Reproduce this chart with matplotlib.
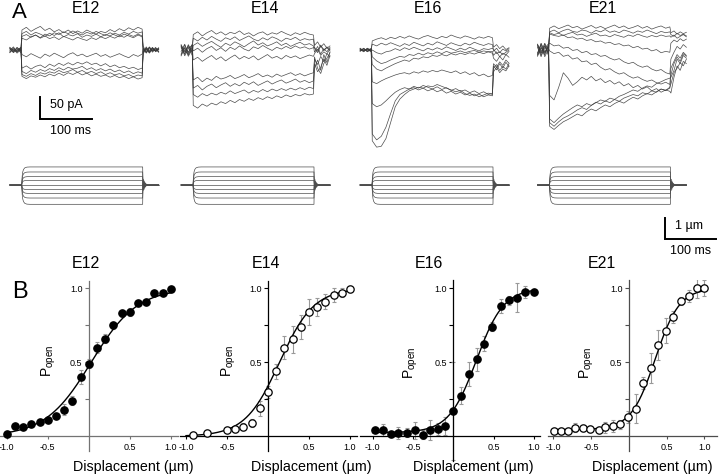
import numpy as np
import matplotlib
matplotlib.use('Agg')
import matplotlib.pyplot as plt

plt.rcParams['font.family'] = ['Liberation Sans', 'DejaVu Sans']
plt.rcParams['mathtext.fontset'] = 'custom'
plt.rcParams['mathtext.rm'] = 'Liberation Sans'
plt.rcParams['mathtext.it'] = 'Liberation Sans:italic'

W, H = 720, 476
fig = plt.figure(figsize=(7.2, 4.76), dpi=100)

# ------------------------------------------------------------------ data
ages = ['E12', 'E14', 'E16', 'E21']

# time base of the current records (ms, from start of each record)
t_ms = [0, 7, 14, 21.5,
        23.5, 32, 41, 50, 59, 68, 77, 86, 95, 104, 113, 122, 131, 140, 149,
        158, 167, 176, 185, 194, 203, 212, 221, 230, 239, 248, 256,
        258, 264, 270, 276, 282, 288]

# transducer currents (pA, upward positive), pre + step + post
e12_pA = [
    [3, -5, 6, -2] + [44, 50, 41, 47, 52, 43, 48, 40, 45, 38, 44, 36, 42, 37, 44, 39, 35, 41, 38, 45, 40, 47, 42, 49, 44, 50, 46] + [8, -3, 6, -5, 4, 0],
    [-4, 5, -3, 4] + [36, 41, 33, 39, 35, 30, 37, 32, 38, 29, 34, 31, 36, 28, 33, 30, 35, 29, 34, 31, 37, 33, 39, 35, 41, 37, 40] + [-6, 7, -4, 5, -2, 3],
    [6, -2, 3, -6] + [30, 34, 28, 33, 26, 31, 25, 29, 23, 30, 26, 22, 28, 24, 21, 27, 23, 29, 25, 30, 26, 32, 28, 34, 30, 35, 31] + [5, -7, 3, -2, 6, -4],
    [-1, 7, -5, 2] + [26, 22, 29, 33, 27, 35, 31, 38, 34, 40, 36, 42, 37, 33, 39, 35, 41, 36, 32, 38, 33, 29, 35, 31, 27, 33, 29] + [-3, 4, -6, 3, -1, 5],
    [4, -6, 1, 5] + [-10, -15, -8, -13, -18, -9, -14, -7, -12, -17, -10, -6, -13, -9, -15, -11, -7, -14, -10, -16, -12, -8, -13, -17, -10, -14, -9] + [2, -5, 6, -3, 1, -4],
    [-5, 3, -7, 1] + [-40, -35, -42, -36, -33, -39, -31, -36, -29, -34, -28, -33, -27, -31, -26, -32, -29, -35, -30, -37, -33, -39, -36, -41, -38, -43, -40] + [-8, 2, -5, 4, -3, 2],
    [2, -4, 5, -3] + [-47, -52, -45, -49, -43, -47, -41, -45, -39, -44, -38, -42, -40, -36, -43, -39, -45, -41, -46, -42, -48, -44, -50, -46, -52, -48, -51] + [-6, 5, -2, 6, -4, 1],
    [-6, 2, -2, 6] + [-54, -58, -52, -56, -50, -53, -48, -51, -45, -50, -47, -43, -49, -45, -51, -47, -52, -48, -54, -50, -55, -52, -57, -54, -59, -55, -57] + [4, -6, 7, -2, 3, -5],
    [5, -1, -4, 3] + [-58, -63, -57, -60, -55, -59, -53, -57, -51, -56, -50, -54, -49, -55, -51, -57, -53, -58, -55, -60, -56, -61, -58, -63, -59, -64, -61] + [-4, 3, -7, 2, -2, 4],
]
e14_pA = [
    [8, -10, 12, -6] + [34, 40, 31, 38, 43, 35, 40, 33, 39, 36, 42, 34, 38, 31, 37, 40, 33, 38, 35, 41, 36, 32, 38, 34, 39, 35, 33] + [10, 18, 6, 14, 4, 9],
    [-9, 11, -5, 10] + [26, 20, 28, 22, 30, 24, 19, 27, 23, 29, 21, 26, 31, 24, 20, 27, 22, 29, 25, 19, 26, 23, 28, 21, 25, 22, 24] + [4, -6, 9, -2, 7, 1],
    [12, -4, 7, -12] + [10, 16, 8, 14, 19, 12, 6, 15, 10, 18, 13, 7, 14, 20, 11, 16, 9, 13, 18, 10, 15, 8, 13, 17, 11, 14, 9] + [-5, 8, -9, 3, -4, 6],
    [-3, 13, -11, 5] + [-2, 4, -5, 3, 8, -1, 5, -3, 6, 1, 9, 2, -2, 7, 3, 10, 4, -1, 6, 2, 8, 3, 9, 4, 7, 2, 5] + [6, -3, 11, 0, 5, -2],
    [9, -13, 3, 11] + [-22, -16, -25, -18, -12, -21, -15, -24, -17, -11, -20, -14, -19, -13, -22, -16, -10, -18, -14, -20, -12, -17, -13, -19, -15, -11, -14] + [-8, 2, -12, -4, -9, 3],
    [-11, 6, -14, 2] + [-66, -60, -70, -62, -67, -58, -64, -61, -56, -63, -59, -54, -61, -57, -52, -59, -55, -60, -53, -58, -54, -50, -56, -52, -57, -53, -50] + [-20, -32, -14, -26, -8, -15],
    [5, -8, 10, -7] + [-84, -78, -88, -80, -75, -83, -77, -72, -80, -74, -79, -71, -76, -70, -78, -73, -68, -75, -70, -66, -73, -69, -64, -71, -67, -72, -68] + [-30, -48, -38, -20, -34, -12],
    [-13, 4, -6, 13] + [-98, -104, -96, -101, -95, -99, -93, -97, -90, -96, -92, -88, -95, -89, -93, -87, -92, -86, -90, -85, -89, -84, -88, -83, -87, -82, -85] + [-15, -40, -52, -30, -18, -6],
    [10, -2, -9, 7] + [-122, -128, -119, -124, -117, -121, -114, -118, -111, -116, -109, -113, -107, -111, -105, -109, -103, -107, -101, -105, -99, -103, -98, -101, -96, -99, -97] + [-40, -22, -45, -10, -28, -4],
]
e16_pA = [
    [2, -3, 4, -1] + [20, 24, 27, 23, 28, 25, 30, 26, 31, 27, 24, 29, 32, 28, 25, 30, 27, 33, 29, 26, 31, 28, 24, 29, 26, 30, 27] + [6, 12, 3, 9, 1, 5],
    [-2, 3, -4, 2] + [13, 9, 15, 11, 16, 12, 8, 14, 10, 17, 13, 9, 15, 11, 18, 14, 10, 16, 12, 9, 15, 11, 17, 13, 10, 14, 12] + [-3, 4, -6, 2, -2, 3],
    [3, -1, 2, -3] + [0, -6, -9, -4, -2, 3, -1, 5, 1, 6, 2, -2, 4, 0, 5, 1, 7, 3, -1, 4, 0, 6, 2, -2, 3, 1, 4] + [2, -8, -4, -10, -5, 0],
    [-3, 2, -1, 4] + [-15, -24, -30, -27, -22, -18, -14, -16, -10, -12, -7, -11, -6, -9, -4, -8, -3, -7, -5, -2, -6, -3, -1, -5, -2, -4, -3] + [-12, -4, -15, -7, -11, -3],
    [1, -4, 3, -2] + [-32, -42, -46, -40, -35, -30, -26, -22, -25, -18, -20, -15, -17, -12, -14, -10, -13, -8, -11, -7, -10, -6, -9, -5, -8, -4, -7] + [-18, -25, -14, -22, -10, -16],
    [4, -2, 1, -4] + [-70, -74, -68, -63, -59, -55, -52, -50, -53, -48, -51, -46, -49, -45, -48, -44, -47, -50, -46, -52, -48, -54, -50, -57, -53, -59, -56] + [-30, -38, -26, -34, -22, -29],
    [-1, 3, -3, 1] + [-118, -125, -121, -112, -102, -93, -87, -83, -86, -80, -84, -78, -82, -86, -81, -87, -83, -89, -85, -91, -88, -94, -90, -96, -92, -98, -95] + [-40, -32, -45, -36, -42, -30],
    [2, -2, 3, -1] + [-185, -198, -190, -170, -140, -112, -98, -92, -86, -83, -88, -84, -90, -86, -92, -88, -95, -91, -97, -93, -99, -95, -101, -97, -103, -99, -101] + [-35, -44, -30, -40, -27, -36],
    [-2, 4, -3, 2] + [-200, -214, -212, -195, -160, -125, -108, -98, -90, -86, -82, -84, -79, -81, -76, -80, -84, -88, -92, -89, -96, -100, -97, -103, -99, -95, -98] + [-48, -38, -50, -42, -46, -35],
]
e21_pA = [
    [12, -8, 15, -4] + [48, 53, 47, 51, 55, 49, 52, 46, 50, 54, 48, 52, 47, 51, 55, 49, 53, 47, 50, 54, 48, 52, 46, 50, 53, 48, 51] + [38, 42, 35, 40, 36, 39],
    [-10, 14, -6, 9] + [40, 44, 38, 43, 46, 41, 39, 44, 42, 37, 43, 40, 45, 39, 42, 38, 44, 41, 37, 42, 39, 44, 40, 36, 41, 38, 40] + [34, 30, 37, 32, 35, 31],
    [6, -15, 10, -9] + [38, 34, 37, 32, 36, 39, 33, 35, 30, 34, 37, 31, 33, 29, 34, 31, 28, 33, 30, 35, 31, 28, 32, 29, 33, 30, 31] + [28, 33, 26, 30, 34, 29],
    [-14, 5, -11, 13] + [35, 32, 30, 33, 27, 29, 24, 26, 21, 23, 18, 20, 15, 17, 12, 14, 9, 11, 5, 8, 2, 4, -2, 1, -6, -3, -5] + [15, 22, 18, 25, 20, 24],
    [9, -12, 4, 14] + [15, 9, 11, 4, 6, -1, 1, -6, -3, -10, -8, -14, -12, -18, -22, -19, -26, -30, -27, -34, -38, -35, -42, -46, -43, -50, -53] + [-20, -5, 8, 2, 12, 6],
    [-6, 11, -15, 3] + [-2, -8, -5, -14, -11, -20, -17, -26, -24, -32, -29, -38, -44, -41, -48, -53, -50, -57, -62, -59, -65, -69, -66, -72, -75, -71, -76] + [-40, -25, -10, -18, -5, -12],
    [13, -3, 8, -13] + [-100, -110, -82, -50, -62, -78, -70, -60, -66, -58, -68, -63, -72, -67, -75, -70, -79, -74, -83, -78, -86, -81, -90, -85, -93, -88, -91] + [-95, -60, -35, -45, -25, -30],
    [-9, 15, -4, 7] + [-160, -168, -158, -150, -145, -139, -132, -127, -131, -122, -116, -110, -113, -106, -109, -102, -98, -93, -88, -91, -84, -79, -82, -74, -70, -65, -62] + [-60, -45, -20, -30, -12, -18],
    [11, -7, 14, -10] + [-168, -175, -166, -158, -153, -147, -141, -145, -136, -130, -134, -127, -121, -125, -118, -113, -117, -110, -104, -108, -101, -96, -99, -92, -86, -89, -82] + [-75, -50, -40, -28, -35, -20],
    [-12, 6, -8, 12] + [-152, -160, -150, -141, -134, -127, -121, -125, -118, -122, -115, -119, -112, -116, -109, -113, -106, -102, -98, -101, -94, -97, -90, -93, -86, -89, -84] + [-55, -30, -15, -25, -8, -14],
]
currents = [e12_pA, e14_pA, e16_pA, e21_pA]

# bundle displacement steps (um)
stim_levels_um = [0.86, 0.62, 0.40, 0.22, 0.0, -0.22, -0.40, -0.62, -0.92]
stim_on_ms, stim_off_ms, stim_end_ms = 23, 257, 288
stim_rise_t = [0, 1, 2, 3.5, 6, 10, 16]
stim_rise_frac = [0, 0.5, 0.72, 0.86, 0.95, 0.99, 1.0]
stim_ring_t = [0, 0.6, 1.8, 3.0, 4.2, 5.4, 6.6, 8.0, 10.0]
stim_ring_frac = [1, 0, -0.3, 0.22, -0.15, 0.1, -0.06, 0.03, 0]

# activation curves (Popen vs displacement, um)
e12_x = [-1.0, -0.9, -0.8, -0.7, -0.6, -0.5, -0.4, -0.3, -0.2, -0.1, 0.0, 0.1, 0.2, 0.3, 0.4, 0.5, 0.6, 0.7, 0.8, 0.9, 1.0]
e12_p = [0.016, 0.07, 0.065, 0.086, 0.10, 0.11, 0.14, 0.18, 0.24, 0.40, 0.49, 0.60, 0.66, 0.75, 0.83, 0.84, 0.90, 0.91, 0.97, 0.97, 0.995]
e12_err = [0.01, 0.015, 0.015, 0.015, 0.015, 0.02, 0.02, 0.035, 0.03, 0.045, 0.03, 0.04, 0.03, 0.025, 0.025, 0.03, 0.02, 0.02, 0.015, 0.01, 0.01]

e14_x = [-0.92, -0.74, -0.5, -0.4, -0.3, -0.2, -0.1, 0.0, 0.1, 0.2, 0.3, 0.4, 0.5, 0.6, 0.7, 0.8, 0.9, 1.0]
e14_p = [0.01, 0.025, 0.04, 0.05, 0.065, 0.09, 0.19, 0.30, 0.44, 0.60, 0.655, 0.74, 0.84, 0.876, 0.91, 0.955, 0.97, 0.998]
e14_err = [0.005, 0.01, 0.01, 0.02, 0.025, 0.03, 0.05, 0.04, 0.05, 0.08, 0.09, 0.08, 0.085, 0.06, 0.05, 0.045, 0.03, 0.02]

e16_x = [-0.97, -0.87, -0.77, -0.68, -0.58, -0.48, -0.38, -0.29, -0.19, -0.1, 0.0, 0.09, 0.19, 0.29, 0.38, 0.48, 0.59, 0.69, 0.79, 0.89, 1.0]
e16_p = [0.043, 0.043, 0.014, 0.02, 0.025, 0.04, 0.01, 0.043, 0.05, 0.07, 0.17, 0.275, 0.42, 0.52, 0.626, 0.74, 0.88, 0.92, 0.937, 0.977, 0.977]
e16_err = [0.02, 0.04, 0.02, 0.04, 0.03, 0.06, 0.03, 0.07, 0.04, 0.06, 0.33, 0.06, 0.08, 0.08, 0.05, 0.03, 0.05, 0.03, 0.1, 0.04, 0.02]

e21_x = [-0.99, -0.9, -0.81, -0.71, -0.61, -0.51, -0.4, -0.31, -0.21, -0.11, -0.01, 0.1, 0.19, 0.29, 0.39, 0.49, 0.59, 0.69, 0.8, 0.9, 1.0]
e21_p = [0.038, 0.038, 0.034, 0.058, 0.058, 0.05, 0.043, 0.06, 0.072, 0.08, 0.128, 0.187, 0.358, 0.46, 0.617, 0.714, 0.804, 0.914, 0.948, 1.0, 1.0]
e21_err = [0.01, 0.02, 0.02, 0.03, 0.02, 0.02, 0.02, 0.04, 0.04, 0.03, 0.04, 0.1, 0.04, 0.1, 0.1, 0.085, 0.04, 0.03, 0.04, 0.065, 0.055]

curve_x = [e12_x, e14_x, e16_x, e21_x]
curve_p = [e12_p, e14_p, e16_p, e21_p]
curve_err = [e12_err, e14_err, e16_err, e21_err]
filled = [True, False, True, False]

# Boltzmann fit parameters: baseline, midpoint (um), slope (um)
fit_base = [0.0, 0.0, 0.025, 0.045]
fit_mid = [0.03, 0.14, 0.285, 0.35]
fit_slope = [0.28, 0.21, 0.17, 0.16]

# ------------------------------------------------------------------ layout
PX_PER_MS = 0.517
PX_PER_PA = 0.454
PX_PER_UM = 21.0
A_BASE_PX = 50.0          # pixel row of 0 pA
S_BASE_PX = 185.0         # pixel row of 0 um
rec_start_px = [9.8, 181.1, 360.1, 537.5]


def fx(px):
    return px / W


def fy(py):
    return 1 - py / H


# overlay axes for the current records (ms / pA)
axI = fig.add_axes([0, 0, 1, 1])
axI.set_xlim(0, W / PX_PER_MS)
axI.set_ylim(-(H - A_BASE_PX) / PX_PER_PA, A_BASE_PX / PX_PER_PA)
axI.axis('off')
axI.patch.set_alpha(0)

# overlay axes for the stimulus (ms / um)
axS = fig.add_axes([0, 0, 1, 1])
axS.set_xlim(0, W / PX_PER_MS)
axS.set_ylim(-(H - S_BASE_PX) / PX_PER_UM, S_BASE_PX / PX_PER_UM)
axS.axis('off')
axS.patch.set_alpha(0)

t_arr = np.array(t_ms)
rt = np.array(stim_rise_t)
rf = np.array(stim_rise_frac)
gt = np.array(stim_ring_t)
gf = np.array(stim_ring_frac)
for k in range(4):
    t0 = rec_start_px[k] / PX_PER_MS
    for tr in currents[k]:
        axI.plot(t0 + t_arr, tr, color='0.22', lw=0.5, alpha=0.9,
                 solid_joinstyle='miter')
    # stimulus
    for lev in stim_levels_um:
        tt = np.concatenate([[0], stim_on_ms + rt, [stim_off_ms],
                             stim_off_ms + gt[1:], [stim_end_ms]])
        yy = np.concatenate([[0], lev * rf, [lev], lev * gf[1:], [0]])
        axS.plot(t0 + tt, yy, color='0.3', lw=0.5)

# scale bars panel A
sb_x = 40 / PX_PER_MS
sb_y = (A_BASE_PX - 119.3) / PX_PER_PA
axI.plot([sb_x, sb_x, sb_x + 100], [sb_y + 50, sb_y, sb_y], color='k', lw=1.4,
         solid_joinstyle='miter')
axI.text(50 / PX_PER_MS, (A_BASE_PX - 105) / PX_PER_PA, '50 pA', fontsize=9,
         ha='left', va='center')
axI.text(50 / PX_PER_MS, (A_BASE_PX - 131) / PX_PER_PA, '100 ms', fontsize=9,
         ha='left', va='center')

sx0 = 664.5 / PX_PER_MS
sy0 = (S_BASE_PX - 239.4) / PX_PER_UM
axS.plot([sx0, sx0, sx0 + 100], [sy0 + 1, sy0, sy0], color='k', lw=1.4,
         solid_joinstyle='miter')
axS.text(675 / PX_PER_MS, (S_BASE_PX - 226) / PX_PER_UM, '1 \u00b5m', fontsize=9,
         ha='left', va='center')
axS.text(670 / PX_PER_MS, (S_BASE_PX - 251) / PX_PER_UM, '100 ms', fontsize=9,
         ha='left', va='center')

# titles A
titleA_x = [86, 265, 428, 603]
for k in range(4):
    fig.text(fx(titleA_x[k]), fy(8.5), ages[k], fontsize=11.5, ha='center', va='center')
fig.text(fx(11.5), fy(12.5), 'A', fontsize=16, ha='left', va='center')

# ------------------------------------------------------------------ panel B
x0px = [88.7, 268.0, 453.3, 628.8]
sxs = [82.0, 82.0, 80.65, 75.5]
xlims = [(-1.08, 1.09), (-1.07, 1.08), (-1.16, 1.07), (-1.07, 1.17)]
ylims = [(-0.1, 1.047), (-0.1, 1.047), (-0.17, 1.055), (-0.1, 1.056)]
Y0PX, SY = 436.3, 148.0
spine_col = ['0.45', 'k', 'k', '0.3']
titleB_x = [86, 266, 429, 602]
ylab_pos = [(49, 361), (229, 361), (411, 363), (587, 363)]
xlab_x = [133, 311, 473, 652]

for k in range(4):
    xl, yl = xlims[k], ylims[k]
    left = x0px[k] + xl[0] * sxs[k]
    right = x0px[k] + xl[1] * sxs[k]
    top = Y0PX - yl[1] * SY
    bottom = Y0PX - yl[0] * SY
    ax = fig.add_axes([fx(left), fy(bottom), (right - left) / W, (bottom - top) / H])
    ax.patch.set_alpha(0)
    ax.set_xlim(*xl)
    ax.set_ylim(*yl)
    for s in ['top', 'right']:
        ax.spines[s].set_visible(False)
    ax.spines['left'].set_position(('data', 0))
    ax.spines['bottom'].set_position(('data', 0))
    for s in ['left', 'bottom']:
        ax.spines[s].set_color(spine_col[k])
        ax.spines[s].set_linewidth(0.9)
    ax.set_yticks([0.25, 0.5, 0.75, 1.0])
    ax.set_yticklabels(['', '0.5', '', '1.0'])
    ax.set_xticks([-1.0, -0.5, 0.5, 1.0])
    ax.set_xticklabels(['-1.0', '-0.5', '0.5', '1.0'])
    ax.tick_params(axis='y', direction='out', length=3, width=0.8, labelsize=6.5,
                   pad=1.5, color=spine_col[k])
    ax.tick_params(axis='x', direction='out', length=2.5, width=0.8, labelsize=6.5,
                   pad=2.5, color=spine_col[k])

    xs = np.linspace(-1.0, 1.0, 300)
    fit = fit_base[k] + (1 - fit_base[k]) / (1 + np.exp(-(xs - fit_mid[k]) / fit_slope[k]))
    ax.errorbar(curve_x[k], curve_p[k], yerr=curve_err[k], fmt='none', ecolor='0.6',
                elinewidth=0.8, capsize=1.6, capthick=0.8, zorder=2)
    ax.plot(xs, fit, color='k', lw=1.0, zorder=3)
    ax.plot(curve_x[k], curve_p[k], 'o', ms=5.3, mfc='k' if filled[k] else 'w',
            mec='k', mew=0.9, zorder=4, clip_on=False)

    fig.text(fx(titleB_x[k]), fy(264), ages[k], fontsize=11.5, ha='center', va='center')
    fig.text(fx(ylab_pos[k][0]), fy(ylab_pos[k][1]), r'$\mathregular{P_{open}}$',
             fontsize=10, rotation=90, ha='center', va='center')
    fig.text(fx(xlab_x[k]), fy(467), 'Displacement (\u00b5m)', fontsize=10.3,
             ha='center', va='center')

fig.text(fx(12.5), fy(291.5), 'B', fontsize=17, ha='left', va='center')

fig.savefig('out.png', dpi=100, facecolor='white')
